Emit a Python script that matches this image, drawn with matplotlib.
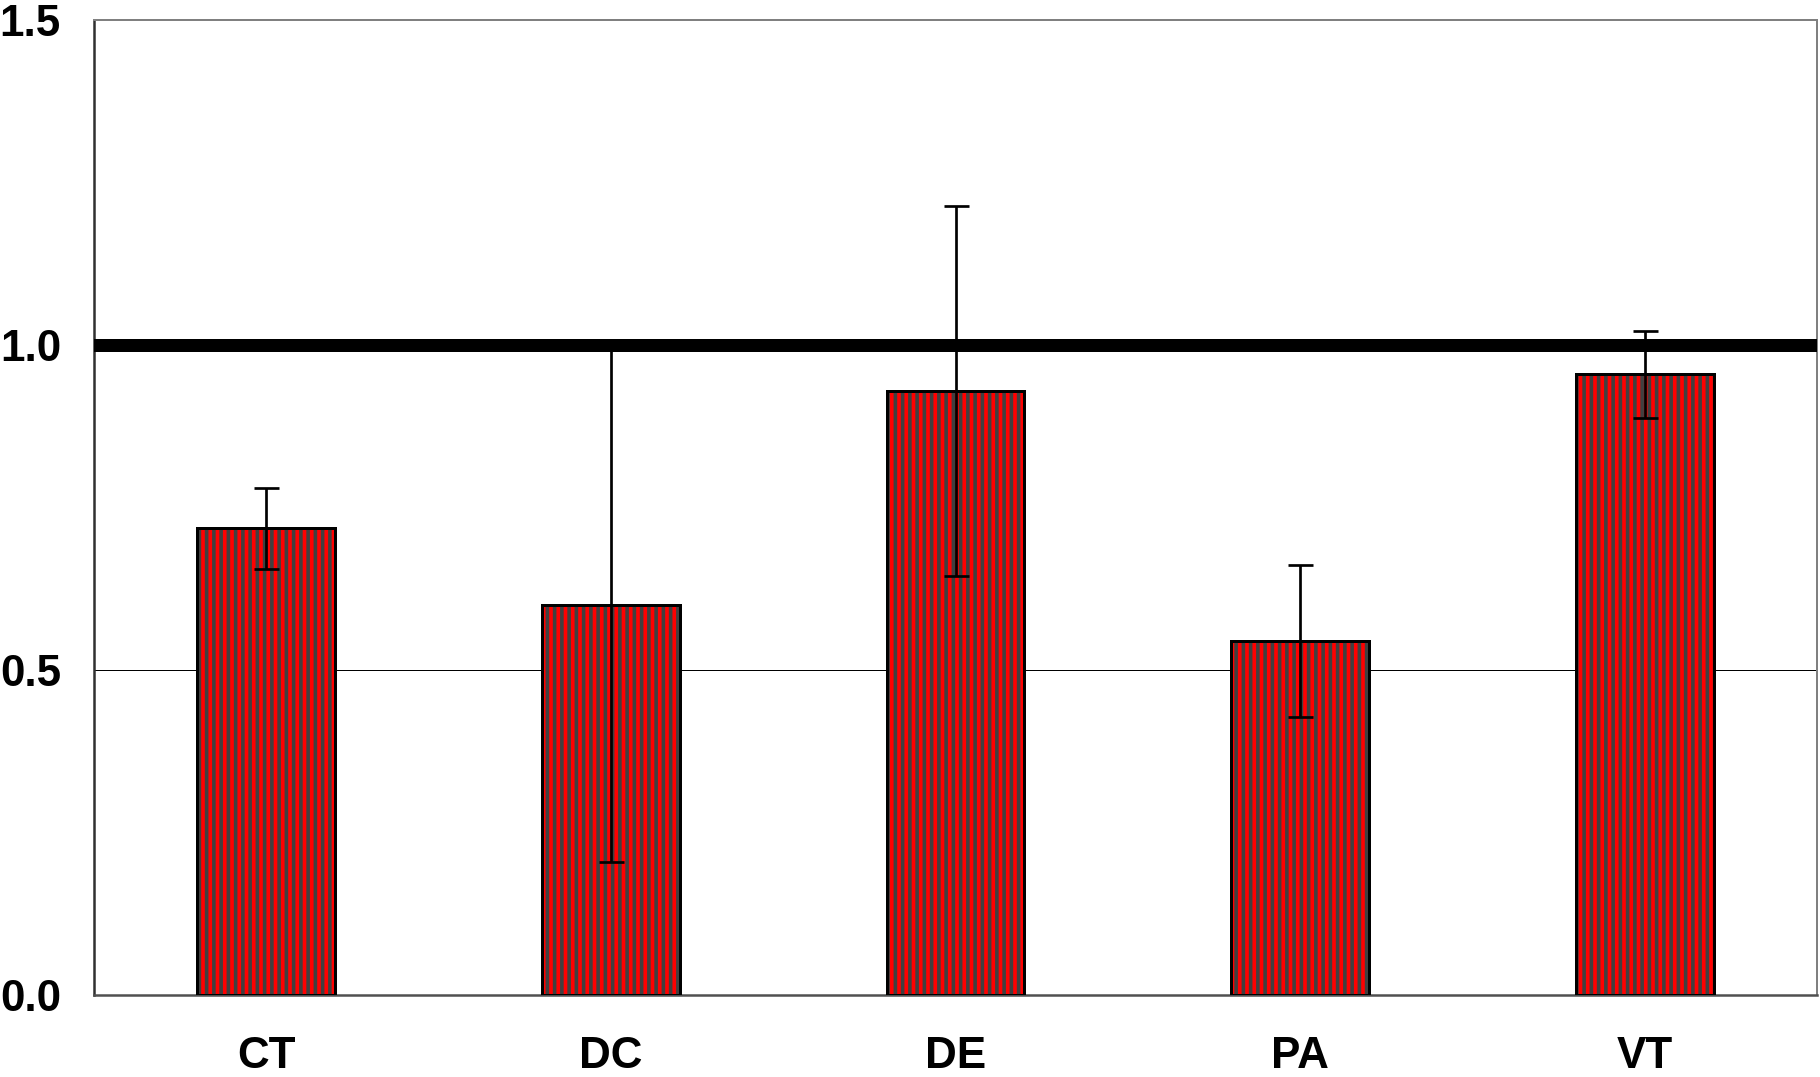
import matplotlib
matplotlib.use("Agg")
import matplotlib.pyplot as plt

# data
categories = ["CT", "DC", "DE", "PA", "VT"]
values = [0.718, 0.600, 0.929, 0.545, 0.955]
errors = [0.062, 0.395, 0.285, 0.117, 0.067]
ref_level = 1.0
yticks = [0.0, 0.5, 1.0, 1.5]

DPI = 87
PT = 72.0 / DPI  # points per pixel


def px(n):
    return n * PT


plt.rcParams["font.family"] = ["Liberation Sans", "DejaVu Sans"]
plt.rcParams["hatch.linewidth"] = px(3.6)

fig = plt.figure(figsize=(1820 / DPI, 1077 / DPI), dpi=DPI)
ax = fig.add_axes([94 / 1820, 82 / 1077, 1723 / 1820, 975 / 1077])

x = list(range(len(categories)))
# striped fill (red with dark grey vertical stripes), then black outline
ax.bar(x, values, width=0.4, color="#ff0000", edgecolor="#404040",
       hatch="||", linewidth=0, zorder=2)
ax.bar(x, values, width=0.4, fill=False, edgecolor="black",
       linewidth=px(3), zorder=3)
ax.errorbar(x, values, yerr=errors, fmt="none", ecolor="black",
            elinewidth=px(2.7), capsize=px(12.5), capthick=px(2.7), zorder=4)

ax.axhline(ref_level, color="black", linewidth=px(13), zorder=5)
ax.axhline(0.5, color="black", linewidth=px(1), zorder=1)

ax.set_xlim(-0.5, len(categories) - 0.5)
ax.set_ylim(0, 1.5)
ax.set_yticks(yticks)
ax.set_yticklabels([f"{t:.1f}" for t in yticks])
ax.set_xticks(x)
ax.set_xticklabels(categories)
ax.tick_params(axis="both", length=0, labelsize=px(44))
ax.tick_params(axis="y", pad=px(33))
ax.tick_params(axis="x", pad=px(41))
for lab in ax.get_xticklabels() + ax.get_yticklabels():
    lab.set_fontweight("bold")

for side in ["top", "right"]:
    ax.spines[side].set_color("#808080")
    ax.spines[side].set_linewidth(px(2))
ax.spines["left"].set_color("#303030")
ax.spines["left"].set_linewidth(px(2.5))
ax.spines["bottom"].set_color("#505050")
ax.spines["bottom"].set_linewidth(px(2.5))

fig.savefig("out.png", dpi=DPI)
